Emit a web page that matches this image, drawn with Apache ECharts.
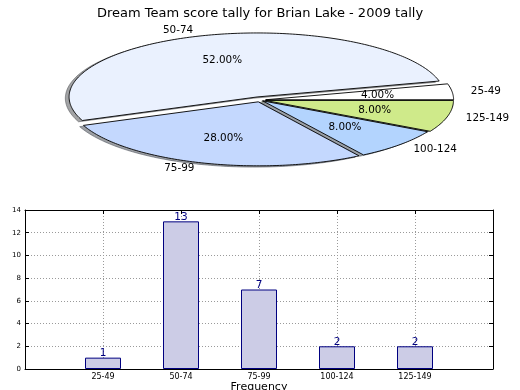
<!DOCTYPE html>
<html><head><meta charset="utf-8">
<script src="https://cdn.jsdelivr.net/npm/echarts@6/dist/echarts.min.js"></script>
<style>html,body{margin:0;padding:0;background:#fff}#c{width:520px;height:390px}</style>
</head><body><div id="c"></div>
<script>
const titleText = 'Dream Team score tally for Brian Lake - 2009 tally';
const categories = ['25-49', '50-74', '75-99', '100-124', '125-149'];
const counts = [1, 13, 7, 2, 2];
const pieColors = ['#ffffff', '#eaf1fe', '#c4d8fe', '#b3d4fe', '#cfea8a'];
const explode = [0.03, 0.05, 0.03, 0.02, 0.03];
const yTicks = [0, 2, 4, 6, 8, 10, 12, 14];
const xAxisName = 'Frequency';
const yAxisName = 'Stat Intervals';

const FONT = 'DejaVu Sans';
const total = counts.reduce((a, b) => a + b, 0);
const slices = [];
let acc = 0;
counts.forEach((v) => {
  const a0 = acc / total * 360; acc += v; const a1 = acc / total * 360;
  slices.push({ a0, a1, pct: v / total * 100 });
});
const PIE = { cx: 260, cy: 100, rx: 188, ry: 64 };
function sliceCenter(i) {
  const s = slices[i];
  const m = (s.a0 + s.a1) / 2 * Math.PI / 180;
  return { m, cx: PIE.cx + explode[i] * PIE.rx * Math.cos(m), cy: PIE.cy - explode[i] * PIE.ry * Math.sin(m) };
}
function ellPts(cx, cy, a0, a1) {
  const pts = [[cx, cy]];
  const n = Math.max(2, Math.ceil(a1 - a0));
  for (let k = 0; k <= n; k++) {
    const t = (a0 + (a1 - a0) * k / n) * Math.PI / 180;
    pts.push([cx + PIE.rx * Math.cos(t), cy - PIE.ry * Math.sin(t)]);
  }
  return pts;
}
function shade(hex) {
  const r = parseInt(hex.slice(1, 3), 16), g = parseInt(hex.slice(3, 5), 16), b = parseInt(hex.slice(5, 7), 16);
  return 'rgba(' + Math.round(r * 0.3) + ',' + Math.round(g * 0.3) + ',' + Math.round(b * 0.3) + ',0.5)';
}
const pieData = counts.map((v, i) => [i, v]);

const chart = echarts.init(document.getElementById('c'), null, { renderer: 'canvas' });
const dotted = { color: '#9a9a9a', width: 1, type: [1, 2] };
const axLine = { show: true, onZero: false, lineStyle: { color: '#000', width: 1 } };
const axTick = { show: true, inside: true, length: 4, lineStyle: { color: '#000' } };
chart.setOption({
  animation: false,
  backgroundColor: '#fff',
  textStyle: { fontFamily: FONT },
  title: { text: titleText, left: 'center', top: 2, textStyle: { fontFamily: FONT, fontSize: 13, fontWeight: 'normal', color: '#000' } },
  grid: { left: 25, right: 27, top: 210, bottom: 21, containLabel: false, outerBoundsMode: 'none' },
  xAxis: [{
    type: 'value', min: 0, max: categories.length + 1, interval: 1,
    axisLine: axLine, axisTick: axTick,
    axisLabel: { fontSize: 8, color: '#000', fontFamily: FONT, margin: 4, formatter: (v) => categories[v - 1] || '' },
    splitLine: { show: true, lineStyle: dotted },
    name: xAxisName, nameLocation: 'middle', nameGap: 13,
    nameTextStyle: { fontSize: 11, color: '#000', fontFamily: FONT }
  }, {
    type: 'value', min: 0, max: categories.length + 1, interval: 1, position: 'top',
    axisLine: axLine, axisTick: axTick,
    axisLabel: { show: false }, splitLine: { show: false }
  }],
  yAxis: [{
    type: 'value', min: yTicks[0], max: yTicks[yTicks.length - 1], interval: yTicks[1] - yTicks[0],
    axisLine: axLine, axisTick: axTick,
    axisLabel: { fontSize: 7, color: '#000', fontFamily: FONT, margin: 4 },
    splitLine: { show: true, lineStyle: dotted },
    name: yAxisName, nameLocation: 'middle', nameGap: 13,
    nameTextStyle: { fontSize: 11, color: '#000', fontFamily: FONT }
  }, {
    type: 'value', min: yTicks[0], max: yTicks[yTicks.length - 1], interval: yTicks[1] - yTicks[0], position: 'right',
    axisLine: axLine, axisTick: axTick,
    axisLabel: { show: false }, splitLine: { show: false }
  }],
  series: [
    {
      type: 'bar', xAxisIndex: 0, yAxisIndex: 0, barWidth: 36,
      data: counts.map((v, i) => [i + 1, v]),
      itemStyle: { color: '#ccccе6'.replace('е', 'e'), borderColor: '#000080', borderWidth: 1 },
      label: { show: true, position: 'top', distance: -1, color: '#000080', fontSize: 10.5, fontFamily: FONT },
      z: 3
    },
    {
      type: 'custom', coordinateSystem: 'none', data: pieData, z: 1, silent: true,
      renderItem: (params) => {
        const i = params.dataIndex; const c = sliceCenter(i);
        return { type: 'polygon', shape: { points: ellPts(c.cx - 0.02 * PIE.rx, c.cy + 0.02 * PIE.ry, slices[i].a0, slices[i].a1) },
          style: { fill: shade(pieColors[i]), stroke: shade(pieColors[i]), lineWidth: 1 } };
      }
    },
    {
      type: 'custom', coordinateSystem: 'none', data: pieData, z: 2, silent: true,
      renderItem: (params) => {
        const i = params.dataIndex; const c = sliceCenter(i);
        return { type: 'polygon', shape: { points: ellPts(c.cx, c.cy, slices[i].a0, slices[i].a1) },
          style: { fill: pieColors[i], stroke: '#000', lineWidth: 0.9, lineJoin: 'miter' } };
      }
    },
    {
      type: 'custom', coordinateSystem: 'none', data: pieData, z: 4, silent: true,
      renderItem: (params) => {
        const i = params.dataIndex; const c = sliceCenter(i);
        const cm = Math.cos(c.m), sm = Math.sin(c.m);
        return { type: 'group', children: [
          { type: 'text', x: c.cx + 0.6 * PIE.rx * cm, y: c.cy - 0.6 * PIE.ry * sm,
            style: { text: slices[i].pct.toFixed(2) + '%', fontSize: 10.4, fontFamily: FONT, fill: '#000', align: 'center', verticalAlign: 'middle' } },
          { type: 'text', x: c.cx + 1.1 * PIE.rx * cm, y: c.cy - 1.1 * PIE.ry * sm,
            style: { text: categories[i], fontSize: 10.4, fontFamily: FONT, fill: '#000', align: cm < 0 ? 'right' : 'left', verticalAlign: 'middle' } }
        ] };
      }
    }
  ]
});
</script>
</body></html>
